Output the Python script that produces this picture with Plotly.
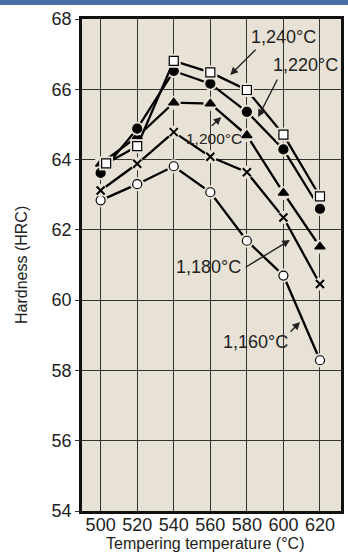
import plotly.graph_objects as go

temps = [500, 520, 540, 560, 580, 600, 620]
temps_1240 = [503, 520, 540, 560, 580, 600, 620]
h_1240 = [63.89, 64.38, 66.81, 66.48, 65.98, 64.71, 62.95]
h_1220 = [63.62, 64.88, 66.52, 66.16, 65.36, 64.29, 62.60]
h_1200 = [63.88, 64.65, 65.62, 65.59, 64.69, 63.05, 61.52]
h_1180 = [63.12, 63.88, 64.78, 64.08, 63.64, 62.35, 60.46]
h_1160 = [62.84, 63.30, 63.81, 63.07, 61.69, 60.70, 58.29]

labels = ["1,240°C", "1,220°C", "1,200°C", "1,180°C", "1,160°C"]
# label text positions and arrow (tail -> head) in data coordinates
label_pos = [(599.8, 67.49), (611.9, 66.69), (562.1, 64.61), (558.9, 60.94), (584.5, 58.81)]
arrow_tail = [(585.6, 67.17), (597.1, 66.32), (560.0, 64.92), (578.5, 60.91), (603.1, 59.06)]
arrow_head = [(570.9, 66.41), (586.2, 65.21), (566.0, 65.21), (603.6, 61.71), (609.1, 59.38)]
label_sizes = [18, 18, 15.5, 18, 18]

BG = "#e8e2d6"
FONT = "Liberation Sans, Arial, Helvetica, sans-serif"

series = [
    (temps, h_1160, "circle", "white", 9),
    (temps, h_1180, "x-thin", "black", 8),
    (temps, h_1200, "triangle-up", "black", 9),
    (temps, h_1220, "circle", "black", 9),
    (temps_1240, h_1240, "square", "white", 9),
]

fig = go.Figure()
for xs, ys, sym, fill, sz in series:
    fig.add_trace(go.Scatter(x=xs, y=ys, mode="lines",
                             line=dict(color="black", width=2.3),
                             hoverinfo="skip", showlegend=False))
    gap_sym = "square" if sym == "square" else "circle"
    fig.add_trace(go.Scatter(x=xs, y=ys, mode="markers",
                             marker=dict(symbol=gap_sym, size=sz + 5, color=BG,
                                         line=dict(width=0)),
                             hoverinfo="skip", showlegend=False))
    if sym == "x-thin":
        mk = dict(symbol=sym, size=sz, color="black", line=dict(color="black", width=2))
    else:
        mk = dict(symbol=sym, size=sz, color=fill, line=dict(color="black", width=1.2))
    fig.add_trace(go.Scatter(x=xs, y=ys, mode="markers", marker=mk, showlegend=False))

anns = []
for lab, (tx, ty), (ax, ay), (hx, hy), fs in zip(labels, label_pos, arrow_tail, arrow_head, label_sizes):
    anns.append(dict(x=tx, y=ty, xref="x", yref="y", text=lab, showarrow=False,
                     font=dict(size=fs, color="#222", family=FONT)))
    anns.append(dict(x=hx, y=hy, ax=ax, ay=ay, xref="x", yref="y", axref="x", ayref="y",
                     text="", showarrow=True, arrowhead=2, arrowsize=1.1,
                     arrowwidth=1.4, arrowcolor="#222"))

# axis titles
anns.append(dict(x=(205 - 82) / 259, y=-32 / 492, xref="paper", yref="paper",
                 text="Tempering temperature (°C)", showarrow=False,
                 xanchor="center", yanchor="middle",
                 font=dict(size=16, color="#222", family=FONT)))
anns.append(dict(x=(21 - 82) / 259, y=0.5, xref="paper", yref="paper",
                 text="Hardness (HRC)", showarrow=False, textangle=-90,
                 xanchor="center", yanchor="middle",
                 font=dict(size=16, color="#222", family=FONT)))

fig.update_layout(
    width=348, height=553,
    margin=dict(l=82, r=7, t=19, b=42),
    paper_bgcolor="white", plot_bgcolor=BG,
    font=dict(family=FONT, color="#222"),
    annotations=anns,
    shapes=[dict(type="rect", xref="paper", yref="paper",
                 x0=-82 / 259, x1=1 + 7 / 259, y0=1 + 14 / 492, y1=1 + 19 / 492,
                 fillcolor="#4a6fa8", line=dict(width=0), layer="above")],
)
fig.update_xaxes(range=[489.8, 631.5], tickvals=temps, ticks="",
                 ticklabelstandoff=-4, showgrid=True, automargin=False,
                 gridcolor="#333", gridwidth=1, zeroline=False,
                 showline=True, mirror=True, linecolor="#111", linewidth=2.5,
                 tickfont=dict(size=18))
fig.update_yaxes(range=[54, 68], dtick=2, ticks="outside", ticklen=4, tickcolor="#333",
                 showgrid=True, gridcolor="#333", gridwidth=1, zeroline=False,
                 automargin=False,
                 showline=True, mirror=True, linecolor="#111", linewidth=2.5,
                 tickfont=dict(size=18))

fig.write_html("out.html")
